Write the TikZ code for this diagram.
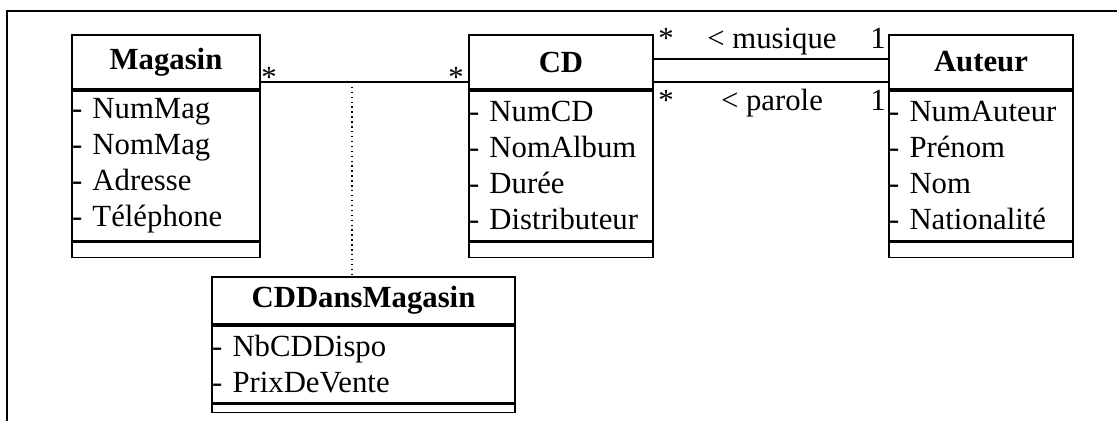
\documentclass[tikz,border=0pt]{standalone}
\usepackage{fontspec}
\setmainfont{Liberation Serif}
\usepackage{tikz}
\usetikzlibrary{positioning}
\usetikzlibrary{calc}

\tikzset{
  txt/.style={font=\fontsize{17.5}{20.5}\selectfont},
  classname/.style={draw, line width=1pt, txt, font=\fontsize{17.5}{20.5}\selectfont\bfseries, inner sep=0pt},
  attrs/.style={draw, line width=1pt, txt, align=left, inner sep=0pt},
  ops/.style={draw, line width=1pt, inner sep=0pt},
  assoc/.style={line width=1pt},
  mult/.style={txt, inner sep=0pt, anchor=base},
  frame/.style={line width=1.4pt}
}

\begin{document}
\begin{tikzpicture}[x=0.02cm, y=-0.02cm]
\useasboundingbox (0,0) rectangle (1117,421);
\draw[frame] (7,421) -- (7,11) -- (1117,11);

% classes
\node[classname, minimum width=3.76cm, minimum height=1.08cm] (magasin) at (166,62) {Magasin};
\node[attrs, text width=3.76cm, minimum height=3cm, below=0cm of magasin] (magasinAttr)
  {- NumMag\\- NomMag\\- Adresse\\- Téléphone};
\node[ops, minimum width=3.76cm, minimum height=0.3cm, below=0cm of magasinAttr] (magasinOps) {};

\node[classname, minimum width=3.68cm, minimum height=1.08cm] (cd) at (561,62) {CD};
\node[attrs, text width=3.68cm, minimum height=3cm, below=0cm of cd] (cdAttr)
  {- NumCD\\- NomAlbum\\- Durée\\- Distributeur};
\node[ops, minimum width=3.68cm, minimum height=0.3cm, below=0cm of cdAttr] (cdOps) {};

\node[classname, minimum width=3.68cm, minimum height=1.08cm] (auteur) at (981,62) {Auteur};
\node[attrs, text width=3.68cm, minimum height=3cm, below=0cm of auteur] (auteurAttr)
  {- NumAuteur\\- Prénom\\- Nom\\- Nationalité};
\node[ops, minimum width=3.68cm, minimum height=0.3cm, below=0cm of auteurAttr] (auteurOps) {};

\node[classname, minimum width=6.06cm, minimum height=0.94cm] (cddm) at (363.5,300.5) {CDDansMagasin};
\node[attrs, text width=6.06cm, minimum height=1.54cm, below=0cm of cddm] (cddmAttr)
  {- NbCDDispo\\- PrixDeVente};
\node[ops, minimum width=6.06cm, minimum height=0.16cm, below=0cm of cddmAttr] (cddmOps) {};

% associations
\draw[assoc] ([yshift=0.16cm]magasin.south east) -- coordinate[pos=0.44] (link) ([yshift=0.16cm]cd.south west);
\draw[dotted, line width=0.8pt] (link) -- (link |- cddm.north);

\draw[assoc] ([yshift=0.06cm]cd.east) -- ([yshift=0.06cm]auteur.west);
\draw[assoc] ([yshift=0.16cm]cd.south east) -- ([yshift=0.16cm]auteur.south west);

% multiplicities
\node[mult] (mMag) at (269,88) {*};
\node[mult] (mCd) at (456,88) {*};
\node[mult] (mMusCd) at (666,49) {*};
\node[mult] (mMusAut) at (878,49) {1};
\node[mult] (mParCd) at (666,111) {*};
\node[mult] (mParAut) at (878,111) {1};

% roles
\node[mult] (musique) at (772,49) {< musique};
\node[mult] (parole) at (772,111) {< parole};
\end{tikzpicture}
\end{document}
